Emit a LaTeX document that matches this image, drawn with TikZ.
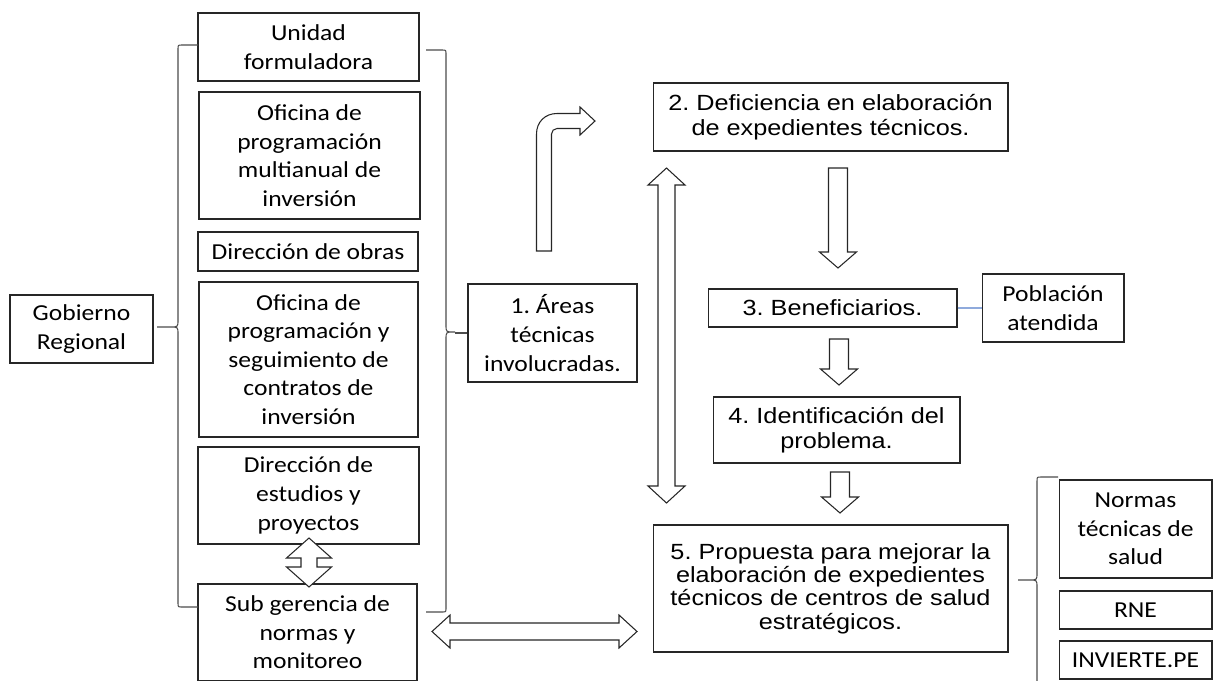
\documentclass[tikz,border=0pt]{standalone}
\usepackage{fontspec}
\setmainfont{Carlito}[FakeStretch=1.12]
\newfontfamily\arialfont{Liberation Sans}[FakeStretch=1.15]
\usetikzlibrary{calc}
\frenchspacing

\tikzset{
  cbox/.style={draw=black!85, line width=0.6pt, align=center, inner sep=0pt,
    font=\fontsize{13}{16.3}\selectfont},
  abox/.style={cbox, font=\arialfont\fontsize{12.5}{14}\selectfont},
  blk/.style={draw=black!85, line width=0.6pt, fill=white, line join=miter},
  brc/.style={draw=black!70, line width=0.6pt},
}
\newcommand{\downblk}[2]{\draw[blk] ($(#1)+(-.19cm,0)$) -- ($(#2)+(-.19cm,.32cm)$)
  -- ($(#2)+(-.37cm,.32cm)$) -- (#2) -- ($(#2)+(.37cm,.32cm)$)
  -- ($(#2)+(.19cm,.32cm)$) -- ($(#1)+(.19cm,0)$) -- cycle;}
\newcommand{\vdoubleblk}[5]{\draw[blk] (#1) -- ($(#1)+(#4,-#5)$) -- ($(#1)+(#3,-#5)$)
  -- ($(#2)+(#3,#5)$) -- ($(#2)+(#4,#5)$) -- (#2) -- ($(#2)+(-#4,#5)$)
  -- ($(#2)+(-#3,#5)$) -- ($(#1)+(-#3,-#5)$) -- ($(#1)+(-#4,-#5)$) -- cycle;}
\newcommand{\hdoubleblk}[5]{\draw[blk] (#1) -- ($(#1)+(#5,#4)$) -- ($(#1)+(#5,#3)$)
  -- ($(#2)+(-#5,#3)$) -- ($(#2)+(-#5,#4)$) -- (#2) -- ($(#2)+(-#5,-#4)$)
  -- ($(#2)+(-#5,-#3)$) -- ($(#1)+(#5,-#3)$) -- ($(#1)+(#5,-#4)$) -- cycle;}
\newcommand{\brcpath}[7]{\draw[brc] (#1,#4) -- ({#2-#7},#4) .. controls (#2,#4) .. (#2,{#4+4})
  -- (#2,{#5-7}) .. controls (#2,#5) .. ({#2+2*#7},#5) -- (#3,#5) -- ({#2+2*#7},#5)
  .. controls (#2,#5) .. (#2,{#5+7})
  -- (#2,{#6-4}) .. controls (#2,#6) .. ({#2-#7},#6) -- (#1,#6);}

\begin{document}
\begin{tikzpicture}[x=0.02cm, y=-0.02cm]
\useasboundingbox (0,0) rectangle (1213,680);
\clip (0,0) rectangle (1213,680);

\node[cbox, minimum width=2.86cm, minimum height=1.36cm] (gob) at (81.5,329) {Gobierno\\Regional};
\node[cbox, minimum width=4.42cm, minimum height=1.36cm] (uf) at (308.5,47) {Unidad\\formuladora};
\node[cbox, minimum width=4.42cm, minimum height=2.54cm] (opmi) at (309.5,155.5) {Oficina de\\programación\\multianual de\\inversión};
\node[cbox, minimum width=4.40cm, minimum height=0.78cm] (dobras) at (308,251.5) {Dirección de obras};
\node[cbox, minimum width=4.38cm, minimum height=3.10cm] (opsci) at (308.5,359.5) {Oficina de\\programación y\\seguimiento de\\contratos de\\inversión};
\node[cbox, minimum width=4.42cm, minimum height=1.94cm] (dep) at (308.5,495.5) {Dirección de\\estudios y\\proyectos};
\node[cbox, minimum width=4.38cm, minimum height=1.94cm] (sgnm) at (307.5,632.5) {Sub gerencia de\\normas y\\monitoreo};
\node[cbox, minimum width=3.38cm, minimum height=1.96cm] (areas) at (552.5,333) {1. Áreas\\técnicas\\involucradas.};

\node[abox, minimum width=7.10cm, minimum height=1.36cm] (defic) at (830.5,117) {2. Deficiencia en elaboración\\de expedientes técnicos.};
\node[abox, minimum width=4.98cm, minimum height=0.76cm] (benef) at (832.5,308) {3. Beneficiarios.};
\node[cbox, minimum width=2.84cm, minimum height=1.36cm] (pobl) at (1053,308) {Población\\atendida};
\node[abox, minimum width=4.94cm, minimum height=1.32cm] (ident) at (836.5,430) {4. Identificación del\\problema.};
\node[abox, minimum width=7.10cm, minimum height=2.54cm, font=\arialfont\fontsize{12.5}{13.3}\selectfont] (prop) at (830.5,588.5) {5. Propuesta para mejorar la\\elaboración de expedientes\\técnicos de centros de salud\\estratégicos.};
\node[cbox, minimum width=3.06cm, minimum height=1.96cm] (normas) at (1135.5,529) {Normas\\técnicas de\\salud};
\node[cbox, minimum width=3.06cm, minimum height=0.76cm] (rne) at (1135.5,610) {RNE};
\node[cbox, minimum width=3.06cm, minimum height=0.76cm] (invpe) at (1135.5,660) {INVIERTE.PE};

\brcpath{198}{178}{157}{45}{327}{607}{-4}
\brcpath{426}{446}{455}{50}{332}{612}{4}
\brcpath{1058}{1037}{1018}{477}{580}{690}{-4}
\coordinate (midtip) at (455,333);
\draw[brc] (midtip) -- (areas.west);

\draw[line width=0.6pt, color={rgb,255:red,143;green,170;blue,220}] (benef.east) -- (pobl.west);

\coordinate (d23a) at (838,168); \coordinate (d23b) at (838,268);
\coordinate (d34a) at (839,339); \coordinate (d34b) at (839,385);
\coordinate (d45a) at (840,472); \coordinate (d45b) at (840,513);
\downblk{d23a}{d23b}
\downblk{d34a}{d34b}
\downblk{d45a}{d45b}

\coordinate (lv1) at (666.5,168); \coordinate (lv2) at (666.5,503);
\vdoubleblk{lv1}{lv2}{.17cm}{.37cm}{.34cm}
\coordinate (sv1) at (309,538); \coordinate (sv2) at (309,587);
\vdoubleblk{sv1}{sv2}{.16cm}{.45cm}{.40cm}
\coordinate (hz1) at (432,631.5); \coordinate (hz2) at (637,631.5);
\hdoubleblk{hz1}{hz2}{.17cm}{.33cm}{.36cm}

\draw[blk] (536.5,251) -- (536.5,134) .. controls (536.5,122) and (545,113.5) .. (557,113.5)
  -- (580,113.5) -- (580,107) -- (595,121) -- (580,135) -- (580,128.5) -- (557,128.5)
  .. controls (554,128.5) and (551.5,131) .. (551.5,134) -- (551.5,251) -- cycle;
\end{tikzpicture}
\end{document}
